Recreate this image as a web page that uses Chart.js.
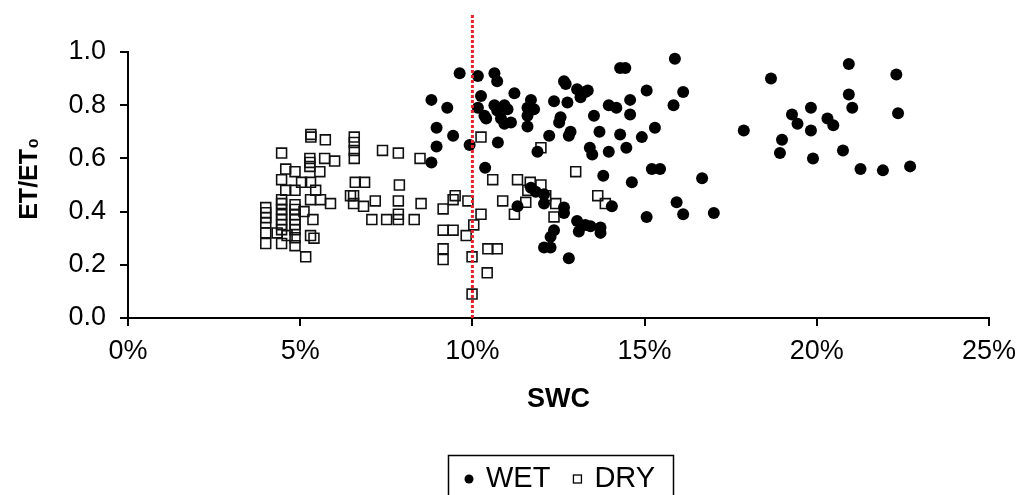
<!DOCTYPE html>
<html>
<head>
<meta charset="utf-8">
<script src="https://cdn.jsdelivr.net/npm/chart.js@4.4.1/dist/chart.umd.min.js"></script>
<style>
  body { margin: 0; background: #fff; }
  canvas { display: block; }
</style>
</head>
<body>
<canvas id="swc-chart" width="1025" height="495"></canvas>
<script>
// WET plots: soil water content (%) and ET/ET0
const wetSwc = [
  9.63, 10.16, 10.64, 10.72, 12.66, 12.71, 13.04, 13.28, 13.14, 8.81,
  9.27, 10.25, 11.22, 11.70, 12.37, 12.76, 10.16, 10.35, 10.40, 10.64,
  10.93, 10.72, 11.02, 10.83, 10.93, 11.12, 11.60, 11.79, 11.60, 11.60,
  12.56, 12.52, 12.85, 12.80, 13.53, 8.96, 9.44, 12.23, 8.96, 9.92,
  10.74, 11.89, 13.41, 13.48, 8.81, 10.37, 11.70, 11.84, 12.08, 11.31,
  12.08, 12.66, 12.66, 13.04, 13.28, 13.09, 13.43, 12.37, 12.27, 12.08,
  12.27, 12.80, 15.88, 14.29, 14.44, 13.35, 15.06, 16.12, 14.58, 15.84,
  13.96, 14.18, 14.58, 15.30, 13.69, 14.29, 14.92, 17.88, 18.67, 13.96,
  14.47, 15.21, 15.45, 13.80, 14.63, 16.67, 14.05, 15.93, 16.12, 15.06,
  17.01, 13.72, 13.72, 20.93, 22.31, 20.93, 21.03, 22.36, 19.28, 19.44,
  19.83, 19.83, 20.31, 20.48, 18.99, 18.93, 19.89, 20.76, 21.27, 21.92,
  22.71
];
const wetRatio = [
  0.92, 0.91, 0.92, 0.89, 0.89, 0.88, 0.86, 0.85, 0.83, 0.82,
  0.79, 0.835, 0.845, 0.82, 0.815, 0.81, 0.79, 0.76, 0.75, 0.80,
  0.80, 0.78, 0.785, 0.75, 0.73, 0.735, 0.79, 0.785, 0.76, 0.72,
  0.755, 0.735, 0.70, 0.685, 0.76, 0.715, 0.685, 0.685, 0.645, 0.65,
  0.66, 0.625, 0.64, 0.615, 0.585, 0.565, 0.49, 0.475, 0.465, 0.42,
  0.43, 0.415, 0.395, 0.365, 0.35, 0.325, 0.345, 0.33, 0.305, 0.265,
  0.265, 0.225, 0.975, 0.94, 0.94, 0.855, 0.855, 0.85, 0.82, 0.80,
  0.80, 0.79, 0.765, 0.715, 0.70, 0.69, 0.68, 0.705, 0.90, 0.625,
  0.64, 0.56, 0.56, 0.535, 0.51, 0.525, 0.42, 0.435, 0.39, 0.38,
  0.395, 0.34, 0.32, 0.955, 0.915, 0.84, 0.79, 0.77, 0.765, 0.73,
  0.79, 0.705, 0.75, 0.725, 0.67, 0.62, 0.60, 0.63, 0.56, 0.555,
  0.57
];

// DRY plots
const drySwc = [
  5.31, 5.31, 5.73, 6.57, 6.57, 6.57, 6.57, 4.46, 5.28, 5.28,
  5.71, 6.00, 7.39, 7.85, 8.48, 4.58, 4.85, 5.28, 5.57, 4.46,
  5.04, 5.30, 6.60, 6.87, 7.88, 4.58, 4.85, 5.45, 6.55, 6.46,
  4.46, 4.46, 5.30, 5.59, 5.88, 7.18, 6.55, 6.84, 7.85, 8.51,
  4.00, 4.00, 4.00, 4.00, 4.46, 4.46, 4.46, 4.46, 4.46, 4.85,
  4.85, 4.85, 4.85, 4.85, 4.85, 4.85, 4.85, 5.11, 5.37, 7.08,
  7.51, 7.85, 7.85, 8.31, 4.00, 4.00, 4.33, 4.46, 4.62, 5.30,
  5.40, 5.16, 9.15, 9.15, 9.44, 9.15, 9.15, 9.44, 10.25, 11.99,
  13.00, 10.59, 11.31, 11.68, 11.99, 9.50, 9.87, 10.88, 11.55, 12.13,
  12.42, 10.25, 11.22, 12.37, 10.04, 9.82, 10.45, 10.72, 9.99, 10.43,
  9.99, 13.64, 13.86, 11.61
];
const dryRatio = [
  0.69, 0.68, 0.67, 0.68, 0.66, 0.63, 0.60, 0.62, 0.60, 0.585,
  0.60, 0.59, 0.63, 0.62, 0.60, 0.56, 0.55, 0.57, 0.55, 0.52,
  0.51, 0.51, 0.51, 0.51, 0.50, 0.48, 0.48, 0.48, 0.46, 0.46,
  0.445, 0.43, 0.445, 0.445, 0.43, 0.44, 0.43, 0.42, 0.44, 0.43,
  0.415, 0.396, 0.377, 0.358, 0.408, 0.389, 0.37, 0.351, 0.332, 0.426,
  0.408, 0.389, 0.37, 0.351, 0.332, 0.302, 0.272, 0.40, 0.37, 0.37,
  0.37, 0.39, 0.37, 0.37, 0.32, 0.28, 0.32, 0.28, 0.31, 0.31,
  0.30, 0.23, 0.41, 0.33, 0.33, 0.26, 0.22, 0.445, 0.68, 0.64,
  0.55, 0.52, 0.52, 0.51, 0.50, 0.46, 0.44, 0.44, 0.435, 0.46,
  0.43, 0.39, 0.39, 0.38, 0.35, 0.31, 0.26, 0.26, 0.23, 0.17,
  0.09, 0.46, 0.43, 0.48
];

// 10% SWC threshold line, runs a bit above the top of the axis
const thresholdSwc = 10;
const thresholdRange = [0, 1.14];

const xTicks = [0, 5, 10, 15, 20, 25];
const yTicks = [0, 0.2, 0.4, 0.6, 0.8, 1.0];

const FONT = "'Liberation Sans', Arial, sans-serif";

const toPoints = (xs, ys) => xs.map((x, i) => ({ x: x, y: ys[i] }));

/**
 * Boxed legend under the x axis title, like the Excel original
 */
const boxLegend = {
  id: 'boxLegend',
  afterDraw(chart) {
    const ctx = chart.ctx;
    const items = chart.data.datasets.filter(ds => !ds.hideInLegend);
    const top = 455, left = 448, right = 673, midY = 479;

    ctx.save();
    ctx.strokeStyle = '#000';
    ctx.lineWidth = 1.5;
    ctx.strokeRect(left + 0.5, top + 0.5, right - left, 60);

    ctx.font = '29px ' + FONT;
    ctx.textBaseline = 'middle';
    ctx.fillStyle = '#000';

    let x = left + 21;
    items.forEach(ds => {
      if (ds.pointStyle === 'rect') {
        ctx.lineWidth = 1.3;
        ctx.strokeRect(x - 4, midY - 4, 8, 8);
      } else {
        ctx.beginPath();
        ctx.arc(x, midY, 4.5, 0, Math.PI * 2);
        ctx.fill();
      }
      ctx.fillText(ds.label, x + 17, midY);
      x += 17 + ctx.measureText(ds.label).width + 27;
    });
    ctx.restore();
  }
};

new Chart(document.getElementById('swc-chart'), {
  type: 'scatter',
  data: {
    datasets: [
      {
        type: 'line',
        label: 'threshold',
        hideInLegend: true,
        data: thresholdRange.map(y => ({ x: thresholdSwc, y: y })),
        borderColor: '#e3242b',
        borderWidth: 3,
        borderDash: [3, 2],
        pointRadius: 0,
        clip: false,
        order: -1
      },
      {
        label: 'WET',
        data: toPoints(wetSwc, wetRatio),
        pointStyle: 'circle',
        pointRadius: 6,
        backgroundColor: '#000',
        borderColor: '#000',
        borderWidth: 0
      },
      {
        label: 'DRY',
        data: toPoints(drySwc, dryRatio),
        pointStyle: 'rect',
        pointRadius: 7,
        backgroundColor: 'rgba(0,0,0,0)',
        borderColor: '#111',
        borderWidth: 1.6
      }
    ]
  },
  options: {
    responsive: false,
    animation: false,
    layout: { padding: { top: 52, right: 28, bottom: 0, left: 0 } },
    plugins: {
      legend: { display: false },
      tooltip: { enabled: false }
    },
    scales: {
      x: {
        type: 'linear',
        min: xTicks[0],
        max: xTicks[xTicks.length - 1],
        afterFit: scale => { scale.height = 177; },
        afterBuildTicks: scale => { scale.ticks = xTicks.map(v => ({ value: v })); },
        ticks: {
          color: '#000',
          padding: 9,
          font: { family: FONT, size: 27 },
          callback: v => v + '%'
        },
        grid: {
          drawOnChartArea: false,
          drawTicks: true,
          tickLength: 8,
          color: '#000',
          lineWidth: 2
        },
        border: { display: true, color: '#000', width: 2 },
        title: {
          display: true,
          text: 'SWC',
          color: '#000',
          font: { family: FONT, size: 27, weight: 'bold' },
          padding: { top: 0, bottom: 79 }
        }
      },
      y: {
        type: 'linear',
        min: yTicks[0],
        max: yTicks[yTicks.length - 1],
        afterFit: scale => { scale.width = 128; },
        afterBuildTicks: scale => { scale.ticks = yTicks.map(v => ({ value: v })); },
        ticks: {
          color: '#000',
          padding: 14,
          font: { family: FONT, size: 27 },
          callback: v => v.toFixed(1)
        },
        grid: {
          drawOnChartArea: false,
          drawTicks: true,
          tickLength: 8,
          color: '#000',
          lineWidth: 2
        },
        border: { display: true, color: '#000', width: 2 },
        title: {
          display: true,
          text: '\u2002ET/ET\u2080',
          color: '#000',
          font: { family: FONT, size: 25, weight: 'bold' },
          padding: { top: 15, bottom: 0 }
        }
      }
    }
  },
  plugins: [boxLegend]
});
</script>
</body>
</html>
